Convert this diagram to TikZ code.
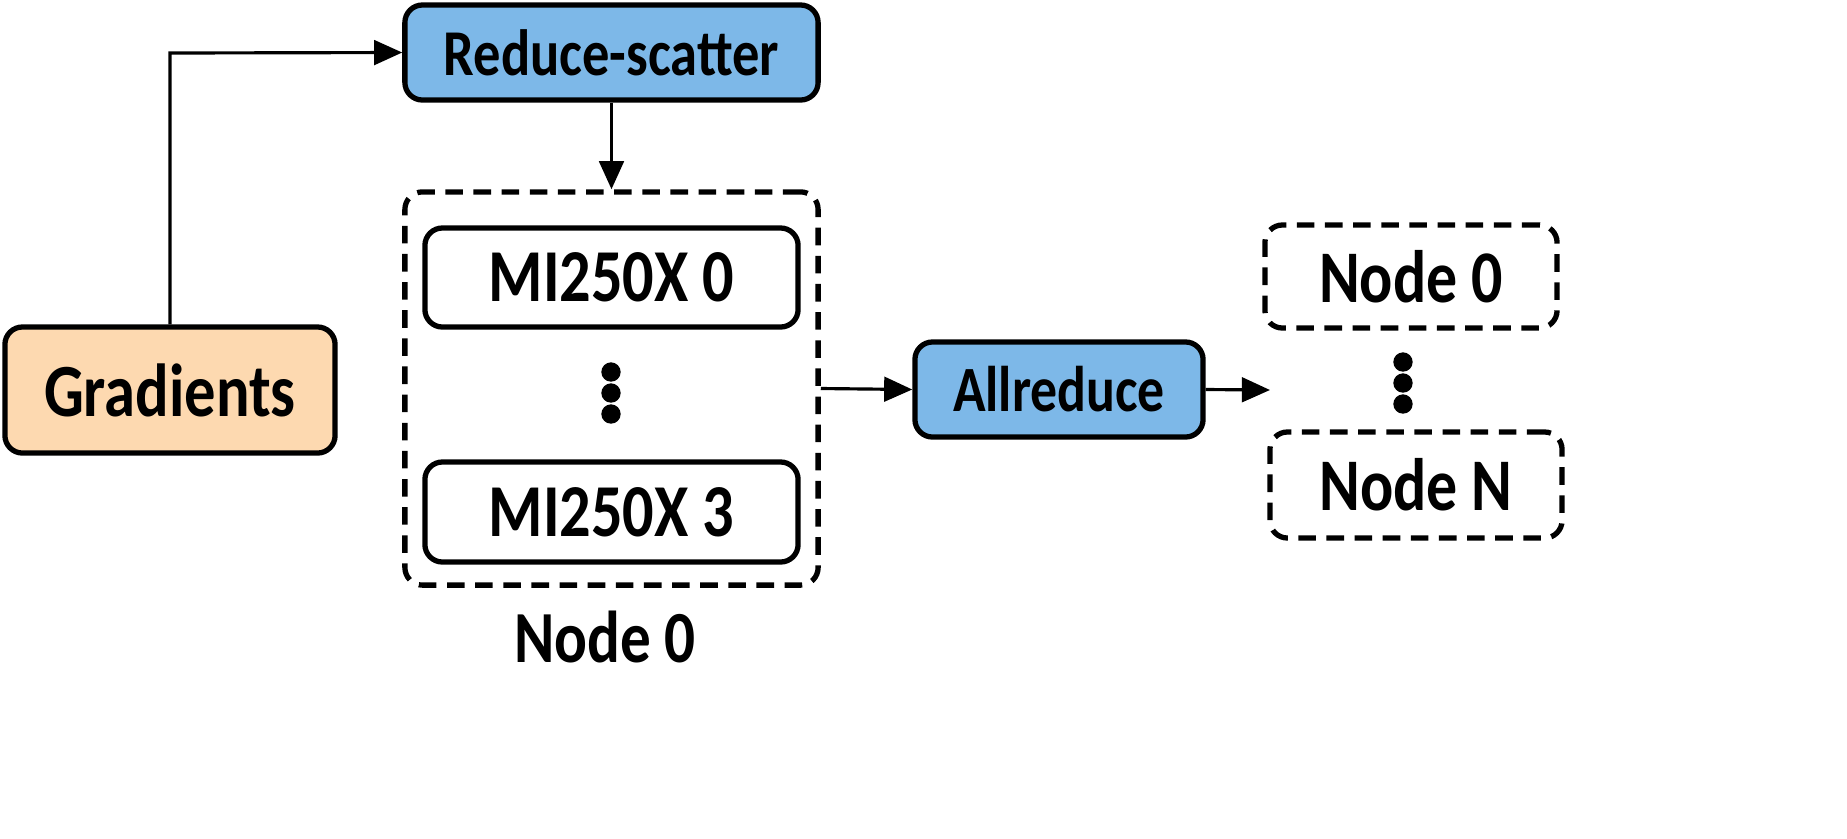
\documentclass[tikz,border=0pt]{standalone}
\usepackage{fontspec}
\setmainfont{Carlito}
\usetikzlibrary{arrows.meta}
\definecolor{blu}{HTML}{7DB8E8}
\definecolor{peach}{HTML}{FDD9B0}
\newcommand{\tall}[1]{\scalebox{1}[1.2]{#1}}
\begin{document}
\begin{tikzpicture}[x=0.01cm,y=-0.01cm,
  box/.style={draw=black,line width=1.5pt,rounded corners=5pt,inner sep=0pt,font=\bfseries},
  dbox/.style={box,dashed,dash pattern=on 5pt off 3pt},
  arr/.style={line width=0.9pt,-{Triangle[length=8pt,width=7pt]}},
  dot/.style={circle,fill=black,inner sep=0pt,minimum size=5.5pt}]
\useasboundingbox (0,0) rectangle (1847,838);
\node[box,fill=blu,font=\bfseries\fontsize{15.5}{18}\selectfont,minimum width=4.13cm,minimum height=0.95cm] (rs) at (611.5,52.5) {\tall{Reduce-scatter}};
\node[box,fill=peach,minimum width=3.3cm,minimum height=1.26cm,font=\bfseries\fontsize{17.8}{20}\selectfont] (gr) at (170,390) {\tall{Gradients}};
\node[dbox,minimum width=4.13cm,minimum height=3.93cm] (outer) at (611.5,388.5) {};
\node[box,minimum width=3.73cm,minimum height=0.99cm,font=\bfseries\fontsize{17.7}{20}\selectfont] (m0) at (611.5,277.5) {\tall{MI250X 0}};
\node[box,minimum width=3.73cm,minimum height=1.0cm,font=\bfseries\fontsize{17.7}{20}\selectfont] (m3) at (611.5,512) {\tall{MI250X 3}};
\node[dot] (a1) at (611,372) {};
\node[dot] (a2) at (611,393) {};
\node[dot] (a3) at (611,414) {};
\node[font=\bfseries\fontsize{17.4}{20}\selectfont] (lbl) at (605,637) {\tall{Node 0}};
\node[box,fill=blu,minimum width=2.88cm,minimum height=0.95cm,font=\bfseries\fontsize{15.3}{18}\selectfont] (ar) at (1059,389.5) {\tall{Allreduce}};
\node[dbox,minimum width=2.92cm,minimum height=1.03cm,font=\bfseries\fontsize{17.6}{20}\selectfont] (n0) at (1411,276.5) {\tall{Node 0}};
\node[dbox,minimum width=2.92cm,minimum height=1.06cm,font=\bfseries\fontsize{17.6}{20}\selectfont] (nn) at (1416,485) {\tall{Node N}};
\node[dot] (b1) at (1403,362) {};
\node[dot] (b2) at (1403,383) {};
\node[dot] (b3) at (1403,404) {};
\coordinate (ae) at (1270,390);
\draw[arr] (gr.north) -- (170,53) -- (rs.west);
\draw[arr] (rs.south) -- (outer.north);
\draw[arr] (outer.east) -- (ar.west);
\draw[arr] (ar.east) -- (ae);
\end{tikzpicture}
\end{document}
